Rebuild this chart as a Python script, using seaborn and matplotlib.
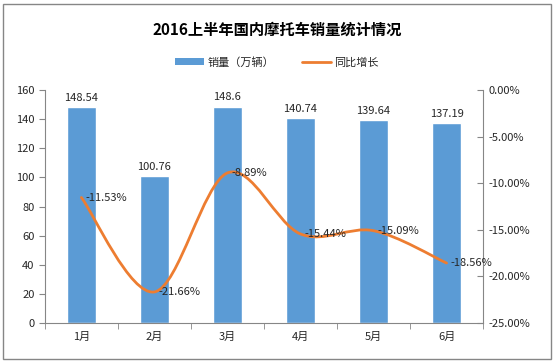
import matplotlib
matplotlib.use("Agg")
import matplotlib.pyplot as plt
import seaborn as sns
from matplotlib.path import Path
from matplotlib.patches import PathPatch, Rectangle, Patch
from matplotlib.lines import Line2D
from matplotlib.ticker import FuncFormatter, FixedLocator

sns.set_style("white")
plt.rcParams['font.family'] = ['Noto Sans CJK SC', 'DejaVu Sans']

# data
months = ["1月", "2月", "3月", "4月", "5月", "6月"]
sales = [148.54, 100.76, 148.6, 140.74, 139.64, 137.19]      # 万辆
growth = [-11.53, -21.66, -8.89, -15.44, -15.09, -18.56]     # %

bar_color = "#5B9BD5"
line_color = "#ED7D31"
axis_color = "#868686"
text_color = "#262626"

fig = plt.figure(figsize=(5.54, 3.63), dpi=100)
ax = fig.add_axes([0.081, 0.110, 0.791, 0.642])

sns.barplot(x=months, y=sales, color=bar_color, width=0.4, ax=ax,
            saturation=1)
ax.set_xlim(-0.5, len(months) - 0.5)
ax.set_ylim(0, 160)
ax.set_yticks(range(0, 161, 20))
ax.set_xlabel("")
ax.set_ylabel("")
ax.bar_label(ax.containers[0], labels=[f"{v:g}" for v in sales],
             padding=3, fontsize=8, color=text_color)

# secondary axis for growth rate
ax2 = ax.twinx()
ax2.set_ylim(-25, 0)
ax2.set_yticks(range(-25, 1, 5))
ax2.yaxis.set_major_formatter(FuncFormatter(lambda v, p: f"{v:.2f}%"))

# smoothed line like Excel (cubic bezier through the points)
xs = list(range(len(growth)))
verts = [(xs[0], growth[0])]
codes = [Path.MOVETO]
n = len(growth)
for i in range(n - 1):
    p0 = (xs[max(i - 1, 0)], growth[max(i - 1, 0)])
    p1 = (xs[i], growth[i])
    p2 = (xs[i + 1], growth[i + 1])
    p3 = (xs[min(i + 2, n - 1)], growth[min(i + 2, n - 1)])
    c1 = (p1[0] + (p2[0] - p0[0]) / 6, p1[1] + (p2[1] - p0[1]) / 6)
    c2 = (p2[0] - (p3[0] - p1[0]) / 6, p2[1] - (p3[1] - p1[1]) / 6)
    verts += [c1, c2, p2]
    codes += [Path.CURVE4] * 3
ax2.add_patch(PathPatch(Path(verts, codes), facecolor="none",
                        edgecolor=line_color, lw=2, capstyle="round"))

for x, g in zip(xs, growth):
    ax2.annotate(f"{g:.2f}%", (x, g), xytext=(3, 0),
                 textcoords="offset points", ha="left", va="center",
                 fontsize=8, color=text_color)

# spines and ticks
for a in (ax, ax2):
    a.spines["top"].set_visible(False)
    for s in ("left", "right", "bottom"):
        a.spines[s].set_color(axis_color)
        a.spines[s].set_linewidth(0.8)
ax.spines["right"].set_visible(False)
ax2.spines["left"].set_visible(False)
ax2.spines["bottom"].set_visible(False)

ax.tick_params(axis="y", direction="out", length=4, color=axis_color,
               labelsize=8, labelcolor=text_color, left=True)
ax2.tick_params(axis="y", direction="in", length=4, color=axis_color,
                labelsize=8, labelcolor=text_color, right=True, pad=4)
ax.tick_params(axis="x", which="major", length=0, labelsize=8,
               labelcolor=text_color, pad=6)
ax.xaxis.set_minor_locator(FixedLocator([i - 0.5 for i in range(len(months) + 1)]))
ax.tick_params(axis="x", which="minor", direction="out", length=4,
               color=axis_color, bottom=True)

# title and legend
fig.text(0.5, 0.917, "2016上半年国内摩托车销量统计情况", ha="center", va="center",
         fontsize=11, fontweight="bold", color="black")
handles = [Patch(facecolor=bar_color, edgecolor="none"),
           Line2D([], [], color=line_color, lw=2)]
fig.legend(handles, ["销量（万辆）", "同比增长"], loc="center",
           bbox_to_anchor=(0.5, 0.829), ncol=2, frameon=False, fontsize=8,
           handlelength=2.6, handleheight=0.5, columnspacing=2.5,
           handletextpad=0.3, labelcolor=text_color)

# outer border
fig.patches.append(Rectangle((0.005, 0.012), 0.99, 0.978, transform=fig.transFigure,
                             fill=False, edgecolor=axis_color, lw=1))

fig.savefig("out.png", dpi=100)
